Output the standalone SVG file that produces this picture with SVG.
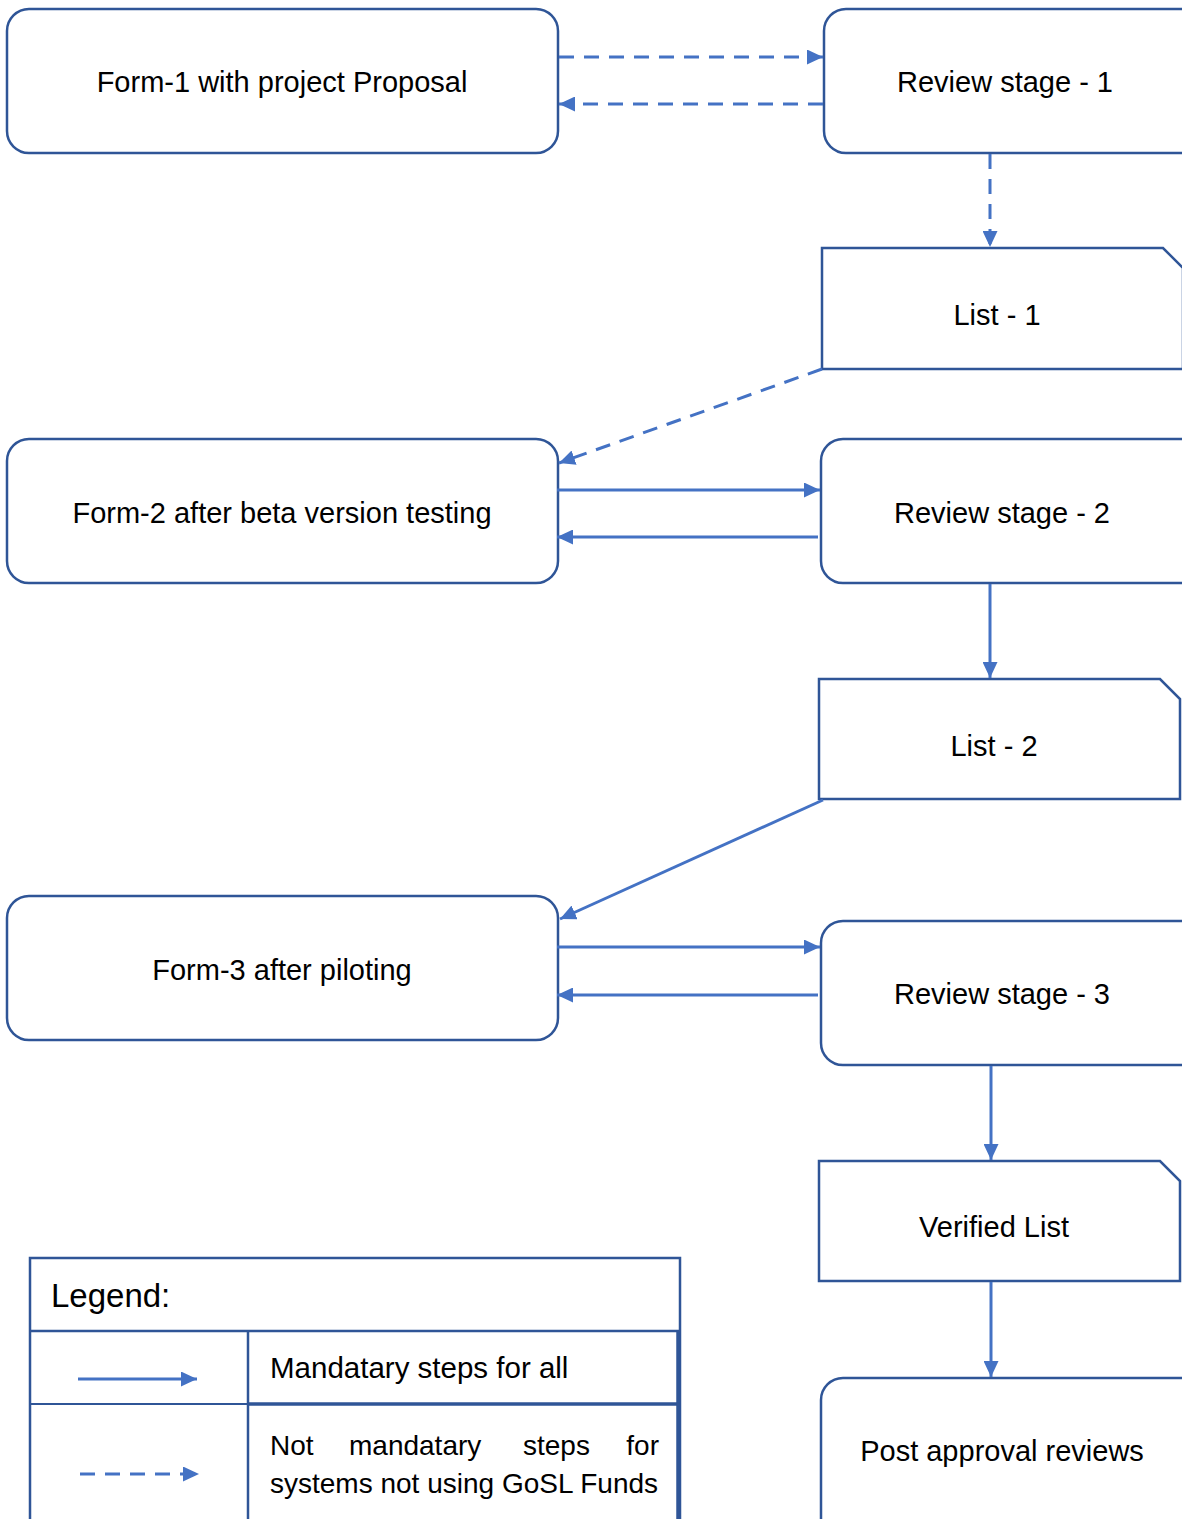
<svg xmlns="http://www.w3.org/2000/svg" width="1182" height="1519" viewBox="0 0 1182 1519">
<style>
.node{fill:#fff;stroke:#2f5597;stroke-width:2.5}
.lbl{font-family:"Liberation Sans","DejaVu Sans",sans-serif;font-size:29px;fill:#000;text-anchor:middle}
.lg{font-family:"Liberation Sans","DejaVu Sans",sans-serif;font-size:28px;fill:#000}
.c{fill:none;stroke:#4472c4;stroke-width:3}
.d{stroke-dasharray:15 10}
</style>
<defs>
<marker id="ah" markerUnits="userSpaceOnUse" markerWidth="17" markerHeight="15" refX="16" refY="7.5" orient="auto">
<path d="M0,0 L16,7.5 L0,15 Z" fill="#4472c4"/>
</marker>
</defs>
<rect width="1182" height="1519" fill="#fff"/>
<g id="form1"><rect class="node" x="7" y="9" width="551" height="144" rx="22"/><text class="lbl" x="282" y="92">Form-1 with project Proposal</text></g>
<g id="review1"><rect class="node" x="824" y="9" width="380" height="144" rx="22"/><text class="lbl" x="1005" y="92">Review stage - 1</text></g>
<g id="list1"><path class="node" d="M822,248 H1163 L1183,268 V369 H822 Z"/><text class="lbl" x="997" y="325">List - 1</text></g>
<g id="form2"><rect class="node" x="7" y="439" width="551" height="144" rx="22"/><text class="lbl" x="282" y="523">Form-2 after beta version testing</text></g>
<g id="review2"><rect class="node" x="821" y="439" width="383" height="144" rx="22"/><text class="lbl" x="1002" y="523">Review stage - 2</text></g>
<g id="list2"><path class="node" d="M819,679 H1160 L1180,699 V799 H819 Z"/><text class="lbl" x="994" y="756">List - 2</text></g>
<g id="form3"><rect class="node" x="7" y="896" width="551" height="144" rx="22"/><text class="lbl" x="282" y="980">Form-3 after piloting</text></g>
<g id="review3"><rect class="node" x="821" y="921" width="383" height="144" rx="22"/><text class="lbl" x="1002" y="1004">Review stage - 3</text></g>
<g id="verified"><path class="node" d="M819,1161 H1160 L1180,1181 V1281 H819 Z"/><text class="lbl" x="994" y="1237">Verified List</text></g>
<g id="post"><rect class="node" x="821" y="1378" width="383" height="170" rx="22"/><text class="lbl" x="1002" y="1461">Post approval reviews</text></g>
<g id="connectors">
<line class="c d" x1="559" y1="57" x2="823" y2="57" marker-end="url(#ah)"/>
<line class="c d" x1="823" y1="104" x2="559" y2="104" marker-end="url(#ah)"/>
<line class="c d" x1="990" y1="154" x2="990" y2="247" marker-end="url(#ah)"/>
<line class="c d" x1="822" y1="369" x2="559" y2="463" marker-end="url(#ah)"/>
<line class="c" x1="557" y1="490" x2="820" y2="490" marker-end="url(#ah)"/>
<line class="c" x1="818" y1="537" x2="557" y2="537" marker-end="url(#ah)"/>
<line class="c" x1="990" y1="584" x2="990" y2="678" marker-end="url(#ah)"/>
<line class="c" x1="823" y1="800" x2="560" y2="919" marker-end="url(#ah)"/>
<line class="c" x1="557" y1="947" x2="820" y2="947" marker-end="url(#ah)"/>
<line class="c" x1="818" y1="995" x2="557" y2="995" marker-end="url(#ah)"/>
<line class="c" x1="991" y1="1066" x2="991" y2="1160" marker-end="url(#ah)"/>
<line class="c" x1="991" y1="1282" x2="991" y2="1377" marker-end="url(#ah)"/>
</g>
<g id="legend">
<rect x="30" y="1258" width="650" height="280" fill="#fff" stroke="#2f5597" stroke-width="2.5"/>
<line x1="30" y1="1331" x2="680" y2="1331" stroke="#2f5597" stroke-width="2.5"/>
<line x1="30" y1="1404" x2="680" y2="1404" stroke="#2f5597" stroke-width="2"/>
<line x1="248" y1="1404" x2="680" y2="1404" stroke="#2f5597" stroke-width="3.5"/>
<line x1="248" y1="1331" x2="248" y2="1519" stroke="#2f5597" stroke-width="2.5"/>
<line x1="678" y1="1331" x2="678" y2="1519" stroke="#2f5597" stroke-width="3.5"/>
<text class="lg" x="51" y="1307" style="font-size:33px">Legend:</text>
<text class="lg" x="270" y="1378" style="font-size:29.5px">Mandatary steps for all</text>
<text class="lg" x="270" y="1455">Not</text>
<text class="lg" x="349" y="1455">mandatary</text>
<text class="lg" x="523" y="1455">steps</text>
<text class="lg" x="659" y="1455" text-anchor="end">for</text>
<text class="lg" x="270" y="1493">systems not using GoSL Funds</text>
<line class="c" x1="78" y1="1379" x2="197" y2="1379" marker-end="url(#ah)"/>
<line class="c d" x1="80" y1="1474" x2="199" y2="1474" marker-end="url(#ah)"/>
</g>
</svg>
